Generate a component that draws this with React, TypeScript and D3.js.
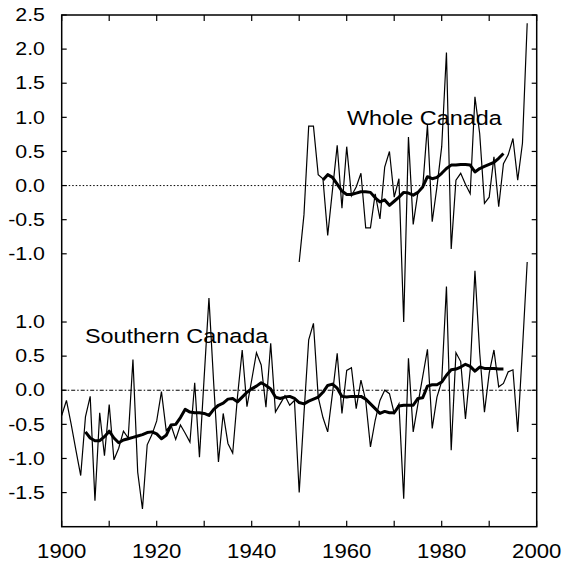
import React from "react";
import * as d3 from "d3";

const W = 563;
const H = 562;

// Southern Canada annual anomalies, 1900-1998
const southernStart = 1900;
const southernAnnual = [
  -0.37, -0.15, -0.5, -0.88, -1.25, -0.39, -0.09, -1.62, -0.33, -0.96,
  -0.21, -1.02, -0.85, -0.6, -0.7, 0.45, -1.2, -1.74, -0.8, -0.65,
  -0.45, -0.02, -0.59, -0.51, -0.72, -0.51, -0.63, -0.76, 0.11, -0.98,
  0.2, 1.35, 0.1, -1.05, -0.34, -0.78, -0.92, -0.1, 0.59, -0.24,
  0.15, 0.55, 0.37, -0.25, 0.69, -0.32, -0.2, -0.08, -0.22, -0.15,
  -1.5, -0.35, 0.74, 0.98, -0.1, -0.4, -0.61, -0.05, 0.54, -0.34,
  0.29, 0.33, -0.27, 0.15, -0.15, -0.83, -0.44, -0.15, 0.0, -0.05,
  -0.34, -0.2, -1.59, 0.47, -0.61, -0.2, 0.2, 0.6, -0.56, -0.1,
  0.13, 1.52, -0.88, 0.55, 0.42, -0.42, 0.3, 1.75, 0.55, -0.32,
  0.25, 0.59, 0.05, 0.1, 0.27, 0.3, -0.61, 0.6, 1.88,
];

// Southern Canada smoothed curve, 1905-1993
const southernSmoothStart = 1905;
const southernSmooth = [
  -0.61, -0.7, -0.74, -0.74, -0.68, -0.6, -0.7, -0.77, -0.73, -0.71,
  -0.69, -0.67, -0.65, -0.62, -0.61, -0.64, -0.71, -0.66, -0.51, -0.5,
  -0.4, -0.28, -0.32, -0.33, -0.33, -0.34, -0.37, -0.28, -0.22, -0.19,
  -0.13, -0.12, -0.17, -0.1, -0.03, 0.02, 0.06, 0.11, 0.07, 0.02,
  -0.1, -0.12, -0.1, -0.09, -0.12, -0.18, -0.2, -0.16, -0.13, -0.1,
  -0.03, 0.07, 0.09, 0.03, -0.09, -0.1, -0.09, -0.09, -0.09, -0.13,
  -0.2, -0.27, -0.34, -0.31, -0.33, -0.33, -0.23, -0.22, -0.22, -0.22,
  -0.12, -0.11, 0.06, 0.08, 0.08, 0.12, 0.22, 0.3, 0.31, 0.34,
  0.38, 0.35, 0.28, 0.34, 0.32, 0.32, 0.32, 0.31, 0.31,
];

// Whole Canada annual anomalies, 1950-1998
const wholeStart = 1950;
const wholeAnnual = [
  -1.12, -0.43, 0.87, 0.87, 0.16, 0.1, -0.73, -0.07, 0.59, -0.33,
  0.57, -0.15, -0.02, 0.18, -0.62, -0.62, -0.12, -0.49, 0.27, 0.5,
  -0.17, 0.1, -2.0, 0.71, -0.57, -0.1, -0.03, 0.89, -0.53, -0.02,
  0.57, 1.95, -0.93, 0.08, 0.18, 0.02, -0.12, 1.3, 0.76, -0.26,
  -0.17, 0.42, -0.31, 0.32, 0.45, 0.69, 0.08, 0.62, 2.38,
];

// Whole Canada smoothed curve, 1955-1993
const wholeSmoothStart = 1955;
const wholeSmooth = [
  0.08, 0.16, 0.12, 0.02, -0.08, -0.13, -0.13, -0.11, -0.09, -0.09,
  -0.1, -0.18, -0.24, -0.21, -0.29, -0.23, -0.17, -0.1, -0.11, -0.14,
  -0.1, -0.02, 0.13, 0.1, 0.12, 0.18, 0.25, 0.3, 0.3, 0.31,
  0.31, 0.3, 0.2, 0.25, 0.28, 0.31, 0.34, 0.4, 0.47,
];

const xTicks = [1900, 1910, 1920, 1930, 1940, 1950, 1960, 1970, 1980, 1990, 2000];
const xTickLabels = [1900, 1920, 1940, 1960, 1980, 2000];
const topPanelTicks = [2.5, 2.0, 1.5, 1.0, 0.5, 0.0, -0.5, -1.0];
const bottomPanelTicks = [1.0, 0.5, 0.0, -0.5, -1.0, -1.5];
const wholeLabel = "Whole Canada";
const southernLabel = "Southern Canada";

const TOP_OFFSET = 3; // top panel plotted 3 units above bottom panel

const FONT = "'Liberation Sans', Arial, Helvetica, sans-serif";

type Pt = { year: number; v: number };
const toPts = (start: number, vals: number[]): Pt[] =>
  vals.map((v, i) => ({ year: start + i, v }));

const fmt = (v: number) => d3.format(".1f")(v).replace("\u2212", "-");

export default function App() {
  const left = 61.7;
  const right = 536.7;
  const top = 15;
  const bottom = 526.7;

  const x = d3.scaleLinear().domain([1900, 2000]).range([left, right]);
  const y = d3.scaleLinear().domain([-2, 5.5]).range([bottom, top]);

  const lineBottom = d3
    .line<Pt>()
    .x((d) => x(d.year))
    .y((d) => y(d.v));
  const lineTop = d3
    .line<Pt>()
    .x((d) => x(d.year))
    .y((d) => y(d.v + TOP_OFFSET));

  const sA = lineBottom(toPts(southernStart, southernAnnual)) || "";
  const sS = lineBottom(toPts(southernSmoothStart, southernSmooth)) || "";
  const wA = lineTop(toPts(wholeStart, wholeAnnual)) || "";
  const wS = lineTop(toPts(wholeSmoothStart, wholeSmooth)) || "";

  return (
    <svg
      width={W}
      height={H}
      style={{ position: "absolute", left: 0, top: 0, background: "#fff" }}
      fontFamily={FONT}
    >
      <rect x={0} y={0} width={W} height={H} fill="#fff" />
      {/* zero lines */}
      <line
        x1={left}
        x2={right}
        y1={y(TOP_OFFSET)}
        y2={y(TOP_OFFSET)}
        stroke="#000"
        strokeWidth={1}
        strokeDasharray="1.5,2"
      />
      <line
        x1={left}
        x2={right}
        y1={y(0)}
        y2={y(0)}
        stroke="#000"
        strokeWidth={1}
        strokeDasharray="4,2,1.5,2"
      />
      {/* data */}
      <path d={sA} fill="none" stroke="#000" strokeWidth={1.2} strokeLinejoin="miter" />
      <path d={wA} fill="none" stroke="#000" strokeWidth={1.2} strokeLinejoin="miter" />
      <path d={sS} fill="none" stroke="#000" strokeWidth={3} strokeLinejoin="round" />
      <path d={wS} fill="none" stroke="#000" strokeWidth={3} strokeLinejoin="round" />

      {/* frame */}
      <rect
        x={left}
        y={top}
        width={right - left}
        height={bottom - top}
        fill="none"
        stroke="#000"
        strokeWidth={1.5}
      />
      {/* x ticks */}
      {xTicks.map((t) => (
        <g key={"xt" + t}>
          <line x1={x(t)} x2={x(t)} y1={bottom} y2={bottom - 6} stroke="#000" strokeWidth={1.2} />
          <line x1={x(t)} x2={x(t)} y1={top} y2={top + 6} stroke="#000" strokeWidth={1.2} />
        </g>
      ))}
      {xTickLabels.map((t) => (
        <text
          key={"xl" + t}
          transform={`translate(${x(t)},${558}) scale(1.08,1)`}
          textAnchor="middle"
          fontSize={20.5}
          fill="#000"
        >
          {t}
        </text>
      ))}
      {/* y ticks top panel */}
      {topPanelTicks.map((t) => (
        <g key={"yt" + t}>
          <line x1={left} x2={left + 5} y1={y(t + TOP_OFFSET)} y2={y(t + TOP_OFFSET)} stroke="#000" strokeWidth={1.2} />
          <line x1={right} x2={right - 5} y1={y(t + TOP_OFFSET)} y2={y(t + TOP_OFFSET)} stroke="#000" strokeWidth={1.2} />
          <text
            transform={`translate(${45},${y(t + TOP_OFFSET) + 6.2}) scale(1.22,1)`}
            textAnchor="end"
            fontSize={17.5}
            fill="#000"
          >
            {fmt(t)}
          </text>
        </g>
      ))}
      {/* y ticks bottom panel */}
      {bottomPanelTicks.map((t) => (
        <g key={"yb" + t}>
          <line x1={left} x2={left + 5} y1={y(t)} y2={y(t)} stroke="#000" strokeWidth={1.2} />
          <line x1={right} x2={right - 5} y1={y(t)} y2={y(t)} stroke="#000" strokeWidth={1.2} />
          <text
            transform={`translate(${45},${y(t) + 6.2}) scale(1.22,1)`}
            textAnchor="end"
            fontSize={17.5}
            fill="#000"
          >
            {fmt(t)}
          </text>
        </g>
      ))}
      {/* series labels */}
      <text transform={`translate(347,125) scale(1.2,1)`} fontSize={19.5} fill="#000">
        {wholeLabel}
      </text>
      <text transform={`translate(85,343) scale(1.2,1)`} fontSize={19.5} fill="#000">
        {southernLabel}
      </text>
    </svg>
  );
}
